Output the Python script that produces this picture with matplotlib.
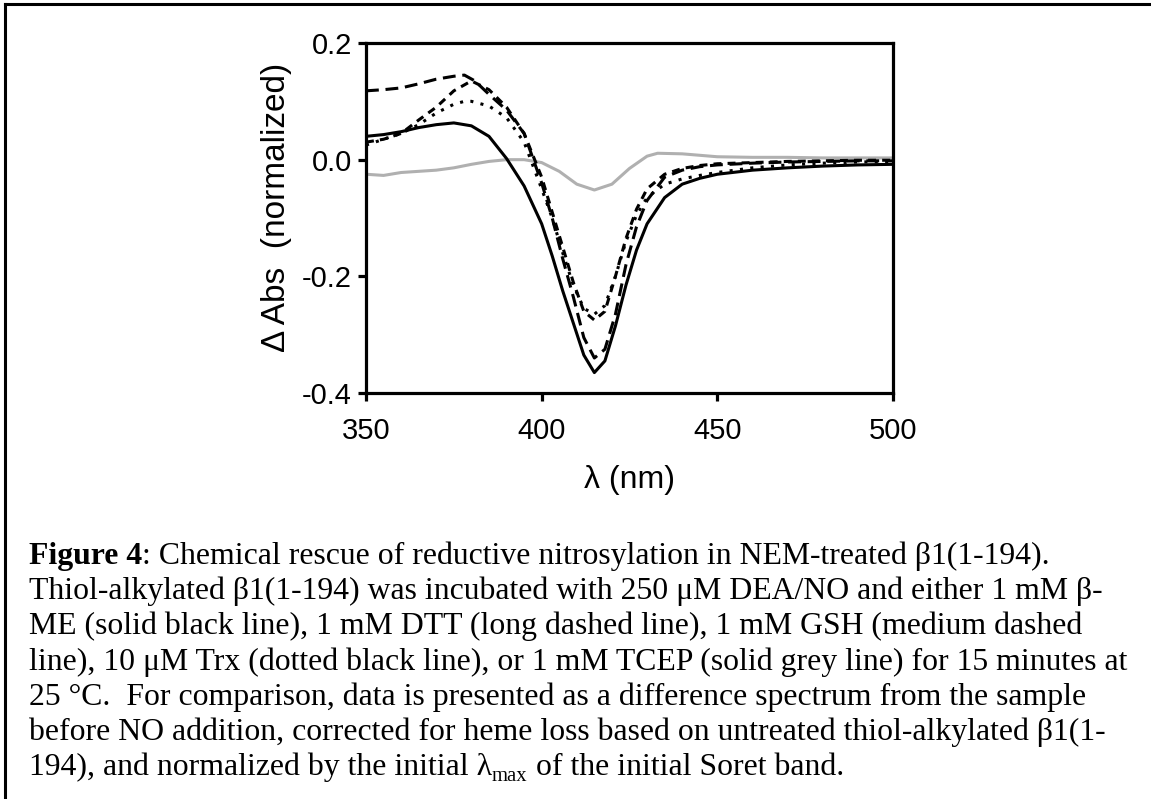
import matplotlib
matplotlib.use("Agg")
import matplotlib.pyplot as plt
from matplotlib.lines import Line2D

# ---------------- data ----------------
wl_me = [350, 355, 360, 365, 370, 375, 380, 385, 390, 395, 400, 403, 406, 409, 412, 415,
         418, 421, 424, 427, 430, 435, 440, 445, 450, 460, 470, 480, 490, 500]
bme = [0.040, 0.043, 0.048, 0.055, 0.060, 0.063, 0.058, 0.040, 0.002, -0.045, -0.110, -0.165,
       -0.225, -0.280, -0.335, -0.365, -0.345, -0.285, -0.215, -0.155, -0.110, -0.065, -0.042,
       -0.032, -0.025, -0.018, -0.014, -0.011, -0.009, -0.008]

wl_dtt = [350, 355, 360, 365, 370, 375, 378, 381, 385, 390, 395, 400, 403, 406, 409, 412, 415,
          418, 421, 424, 427, 430, 435, 440, 445, 450, 460, 470, 480, 490, 500]
dtt = [0.118, 0.120, 0.123, 0.130, 0.138, 0.143, 0.145, 0.135, 0.112, 0.085, 0.045, -0.040,
       -0.100, -0.170, -0.235, -0.305, -0.340, -0.325, -0.265, -0.180, -0.115, -0.070, -0.030,
       -0.018, -0.012, -0.009, -0.006, -0.004, -0.003, -0.002, -0.002]

wl_gsh = [350, 355, 360, 365, 370, 375, 380, 385, 390, 395, 400, 403, 406, 409, 412, 415,
          418, 421, 424, 427, 430, 435, 440, 445, 450, 460, 470, 480, 490, 500]
gsh = [0.030, 0.035, 0.045, 0.068, 0.090, 0.118, 0.135, 0.120, 0.090, 0.045, -0.030, -0.090,
       -0.150, -0.210, -0.260, -0.275, -0.260, -0.200, -0.135, -0.085, -0.050, -0.025, -0.015,
       -0.010, -0.007, -0.005, -0.003, -0.002, -0.001, -0.001]

wl_trx = [350, 355, 360, 365, 370, 375, 378, 380, 385, 390, 395, 400, 403, 406, 409, 412, 415,
          418, 421, 424, 427, 430, 435, 440, 445, 450, 460, 470, 480, 490, 500]
trx = [0.025, 0.035, 0.045, 0.060, 0.080, 0.095, 0.100, 0.100, 0.092, 0.072, 0.030, -0.050,
       -0.100, -0.160, -0.215, -0.255, -0.265, -0.250, -0.200, -0.140, -0.095, -0.065, -0.042,
       -0.033, -0.027, -0.022, -0.014, -0.009, -0.006, -0.004, -0.003]

wl_tcep = [350, 355, 360, 365, 370, 375, 380, 385, 390, 395, 400, 405, 410, 415, 420, 425,
           430, 433, 440, 450, 460, 470, 480, 490, 500]
tcep = [-0.025, -0.027, -0.022, -0.020, -0.018, -0.014, -0.008, -0.003, 0.000, 0.000, -0.005,
        -0.020, -0.042, -0.052, -0.042, -0.015, 0.006, 0.011, 0.010, 0.005, 0.004, 0.004,
        0.003, 0.003, 0.003]

x_ticks = [350, 400, 450, 500]
y_ticks = [-0.4, -0.2, 0.0, 0.2]
y_tick_labels = ["-0.4", "-0.2", "0.0", "0.2"]

caption_lines = [
    [("Figure 4", "bold"), (": Chemical rescue of reductive nitrosylation in NEM-treated \u03b21(1-194).", "normal")],
    [("Thiol-alkylated \u03b21(1-194) was incubated with 250 \u03bcM DEA/NO and either 1 mM \u03b2-", "normal")],
    [("ME (solid black line), 1 mM DTT (long dashed line), 1 mM GSH (medium dashed", "normal")],
    [("line), 10 \u03bcM Trx (dotted black line), or 1 mM TCEP (solid grey line) for 15 minutes at", "normal")],
    [("25 \u00b0C.  For comparison, data is presented as a difference spectrum from the sample", "normal")],
    [("before NO addition, corrected for heme loss based on untreated thiol-alkylated \u03b21(1-", "normal")],
    [("194), and normalized by the initial \u03bb", "normal"), ("max", "sub"), (" of the initial Soret band.", "normal")],
]

# ---------------- figure ----------------
W, H = 1151, 799
fig = plt.figure(figsize=(W / 100, H / 100), dpi=100)
fig.patch.set_facecolor("white")

sans = "Liberation Sans"
serif = "Liberation Serif"

ax = fig.add_axes([366 / W, 1 - 393 / H, (893 - 366) / W, (393 - 43) / H])
lw = 2.2
ax.plot(wl_tcep, tcep, color="#b0b0b0", lw=lw, solid_joinstyle="round")
ax.plot(wl_trx, trx, color="black", lw=lw, linestyle=(0, (1.0, 2.4)))
ax.plot(wl_gsh, gsh, color="black", lw=lw, linestyle=(0, (2.6, 2.0)))
ax.plot(wl_dtt, dtt, color="black", lw=lw, linestyle=(0, (4.2, 2.2)))
ax.plot(wl_me, bme, color="black", lw=lw, solid_joinstyle="round")

ax.set_xlim(350, 500)
ax.set_ylim(-0.4, 0.2)
ax.set_xticks(x_ticks)
ax.set_yticks(y_ticks)
ax.set_yticklabels(y_tick_labels)
for s in ax.spines.values():
    s.set_linewidth(2.3)
ax.tick_params(direction="out", length=6, width=2.3, labelsize=21)
ax.tick_params(axis="x", pad=11)
ax.tick_params(axis="y", pad=4)
for lab in ax.get_xticklabels() + ax.get_yticklabels():
    lab.set_fontfamily(sans)

ax.set_xlabel("\u03bb (nm)", fontsize=23, fontfamily=sans, labelpad=15)
fig.text(277 / W, 1 - 207 / H, "\u0394 Abs  (normalized)", rotation=90,
         ha="center", va="center", fontsize=24, fontfamily=sans)

# border lines (left and top)
fig.add_artist(Line2D([5 / W, 5 / W], [0, 1 - 4 / H], transform=fig.transFigure,
                      color="black", lw=2.2, solid_capstyle="projecting"))
fig.add_artist(Line2D([5 / W, 1], [1 - 4 / H, 1 - 4 / H], transform=fig.transFigure,
                      color="black", lw=2.2, solid_capstyle="projecting"))

# caption
renderer = fig.canvas.get_renderer()
cap_size = 22.9
x0 = 29
base0 = 564
step = 35.2
for i, segs in enumerate(caption_lines):
    x = x0
    yb = base0 + i * step
    for txt, kind in segs:
        if kind == "bold":
            t = fig.text(x / W, 1 - yb / H, txt, fontsize=cap_size, fontweight="bold",
                         fontfamily=serif, va="baseline", ha="left")
        elif kind == "sub":
            t = fig.text(x / W, 1 - (yb + 6) / H, txt, fontsize=cap_size * 0.65,
                         fontfamily=serif, va="baseline", ha="left")
        else:
            t = fig.text(x / W, 1 - yb / H, txt, fontsize=cap_size,
                         fontfamily=serif, va="baseline", ha="left")
        bb = t.get_window_extent(renderer=renderer)
        x = x + bb.width

fig.savefig("out.png", dpi=100)
